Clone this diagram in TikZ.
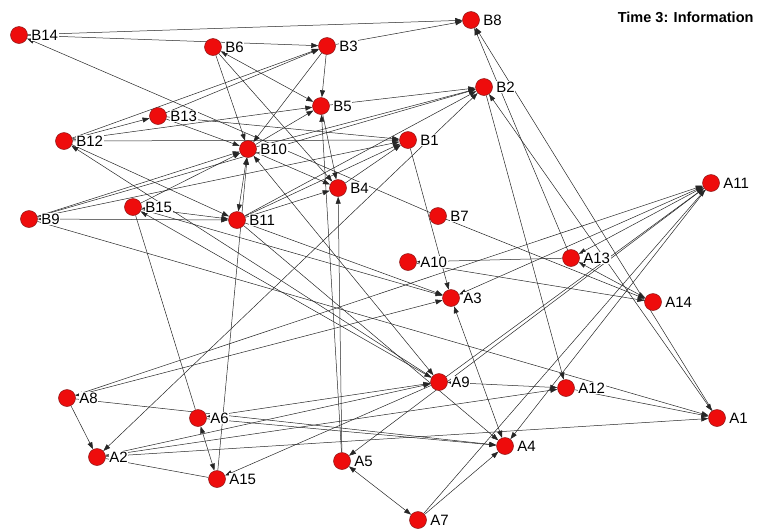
\documentclass[tikz,border=0pt]{standalone}
\usepackage{fontspec}
\setmainfont{Liberation Sans}
\usetikzlibrary{arrows.meta}
\pgfdeclarelayer{bg}
\pgfsetlayers{bg,main}
\begin{document}
\begin{tikzpicture}[x=1pt,y=-1pt,
  nd/.style={circle,minimum size=17pt,inner sep=0pt,fill={rgb,255:red,238;green,12;blue,12},draw={rgb,255:red,140;green,25;blue,25},line width=0.5pt},
  lb/.style={anchor=west,fill=white,inner sep=0.6pt,xshift=11.5pt,font=\fontsize{15}{15}\selectfont},
  ed/.style={draw=black!85,line width=0.5pt,-{Triangle[length=7pt,width=5pt]}},
  bi/.style={draw=black!85,line width=0.5pt,{Triangle[length=7pt,width=5pt]}-{Triangle[length=7pt,width=5pt]}},
  pl/.style={draw=black!85,line width=0.5pt}
]
\useasboundingbox (0,0) rectangle (758,531);
% nodes
\foreach \n/\p in {B14/{19,35},B6/{213,47},B3/{327,46},B8/{471,20},B2/{484,87},B5/{321,106},B13/{158,116},B12/{64,141},B10/{248,149},B1/{408,140},B4/{338,188},B9/{29,219},B15/{133,207},B11/{237,220},B7/{438,216},A11/{711,183},A10/{408,262},A13/{571,258},A3/{451,298},A14/{653,302},A8/{67,398},A9/{439,382},A12/{566,388},A1/{717,418},A6/{198,418},A2/{97,457},A4/{505,446},A5/{342,461},A15/{217,479},A7/{418,520}}
  {\node[nd] (\n) at (\p) {};}
\foreach \n/\p in {B14/{19,35},B6/{213,47},B3/{327,46},B8/{471,20},B2/{484,87},B5/{321,106},B13/{158,116},B12/{64,141},B10/{248,149},B1/{408,140},B4/{338,188},B9/{29,219},B15/{133,207},B11/{237,220},B7/{438,216},A11/{711,183},A10/{408,262},A13/{571,258},A3/{451,298},A14/{653,302},A8/{67,398},A9/{439,382},A12/{566,388},A1/{717,418},A6/{198,418},A2/{97,457},A4/{505,446},A5/{342,461},A15/{217,479},A7/{418,520}}
  {\node[lb] (L\n) at (\p) {\n};}
\node[anchor=east,font=\bfseries\fontsize{14.5}{14.5}\selectfont] (title) at (757,17) {Time 3: Information};
\begin{pgfonlayer}{bg}
\path[ed] (B14) -- (B8);
\path[ed] (B14) -- (B3);
\path[ed] (B3) -- (B8);
\path[ed] (B3) -- (B5);
\path[bi] (B6) -- (B5);
\path[ed] (B6) -- (B10);
\path[ed] (B6) -- (B4);
\path[ed] (B3) -- (B10);
\path[ed] (B7) -- (B14);
\path[ed] (B12) -- (B3);
\path[ed] (B13) -- (B3);
\path[ed] (B12) -- (B13);
\path[ed] (B12) -- (B5);
\path[ed] (B12) -- (B1);
\path[ed] (B13) -- (B1);
\path[ed] (B13) -- (B10);
\path[ed] (B5) -- (B2);
\path[ed] (B10) -- (B2);
\path[ed] (B10) -- (B5);
\path[ed] (B11) -- (B2);
\path[ed] (B11) -- (B1);
\path[ed] (B4) -- (B1);
\path[ed] (B9) -- (B1);
\path[ed] (B9) -- (B10);
\path[ed] (B9) -- (B2);
\path[bi] (B9) -- (B11);
\path[ed] (B9) -- (A1);
\path[ed] (B15) -- (B10);
\path[bi] (B15) -- (B11);
\path[ed] (B15) -- (A3);
\path[bi] (B15) -- (A9);
\path[pl] (A6) -- (B15);
\path[ed] (B12) -- (B11);
\path[ed] (A9) -- (B12);
\path[bi] (B10) -- (B11);
\path[ed] (A15) -- (B10);
\path[bi] (B10) -- (A9);
\path[ed] (B11) -- (B4);
\path[ed] (B10) -- (B4);
\path[ed] (B5) -- (B4);
\path[ed] (A5) -- (B5);
\path[ed] (A5) -- (B4);
\path[bi] (A5) -- (A7);
\path[bi] (A5) -- (A11);
\path[ed] (B1) -- (A3);
\path[bi] (B2) -- (A2);
\path[ed] (B2) -- (A12);
\path[ed] (A13) -- (B8);
\path[bi] (B2) -- (A1);
\path[ed] (A1) -- (B8);
\path[ed] (B7) -- (A14);
\path[ed] (A13) -- (A10);
\path[ed] (A10) -- (A14);
\path[bi] (A13) -- (A14);
\path[bi] (A13) -- (A11);
\path[ed] (A9) -- (A11);
\path[bi] (A3) -- (A11);
\path[ed] (A8) -- (A11);
\path[ed] (A7) -- (A11);
\path[ed] (A11) -- (A4);
\path[bi] (A8) -- (A3);
\path[ed] (B11) -- (A3);
\path[ed] (B11) -- (A4);
\path[bi] (A3) -- (A4);
\path[ed] (A7) -- (A4);
\path[ed] (A6) -- (A4);
\path[ed] (A8) -- (A4);
\path[ed] (A8) -- (A2);
\path[bi] (A6) -- (A15);
\path[pl] (A2) -- (A15);
\path[ed] (A2) -- (A9);
\path[ed] (A2) -- (A12);
\path[ed] (A2) -- (A1);
\path[bi] (A6) -- (A9);
\path[ed] (A9) -- (A15);
\path[bi] (A9) -- (A12);
\path[ed] (A12) -- (A1);
\end{pgfonlayer}
\end{tikzpicture}
\end{document}
